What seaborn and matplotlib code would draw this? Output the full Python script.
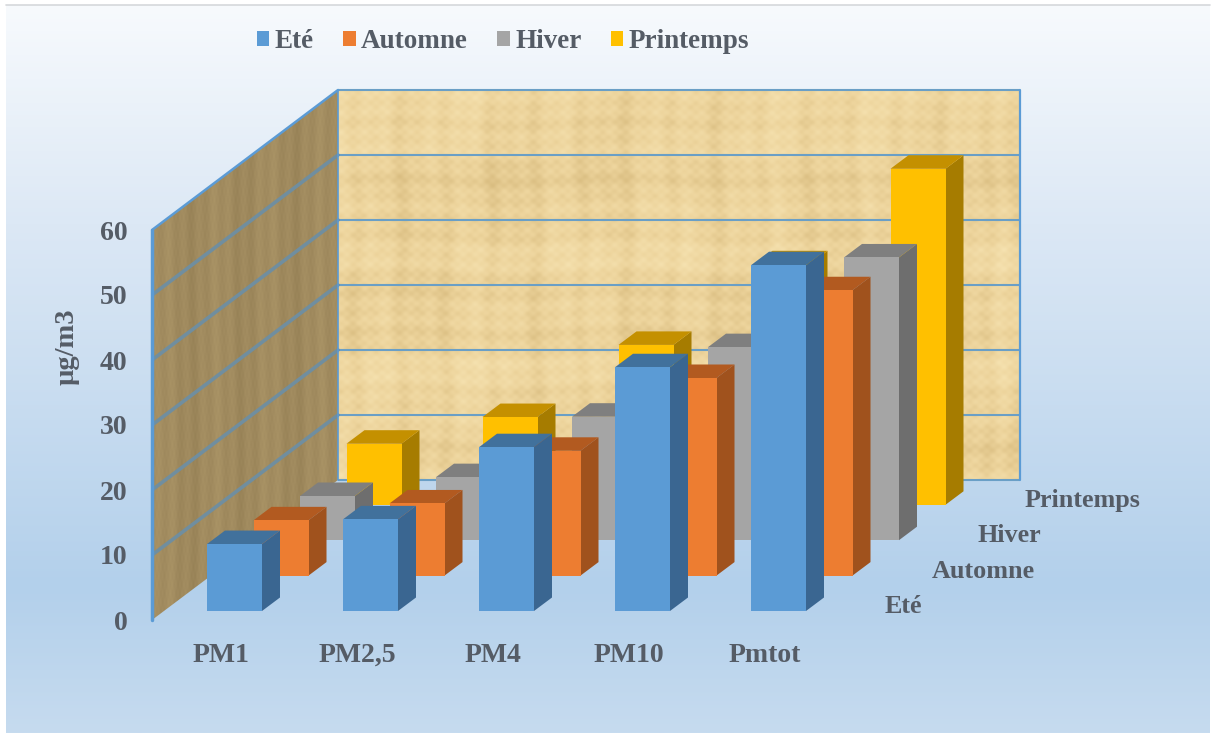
import numpy as np
import matplotlib
matplotlib.use("Agg")
import matplotlib.pyplot as plt
from matplotlib.patches import Polygon
from matplotlib.colors import LinearSegmentedColormap
import seaborn as sns

categories = ["PM1", "PM2,5", "PM4", "PM10", "Pmtot"]
ete = [10.3, 14.1, 25.2, 37.5, 53.2]
automne = [8.5, 11.1, 19.2, 30.4, 43.9]
hiver = [6.8, 9.7, 19.0, 29.7, 43.5]
printemps = [9.4, 13.5, 24.6, 37.0, 51.7]
series_names = ["Eté", "Automne", "Hiver", "Printemps"]
series_values = [ete, automne, hiver, printemps]
y_ticks = [0, 10, 20, 30, 40, 50, 60]

front_colors = ["#5B9BD5", "#ED7D31", "#A5A5A5", "#FFC000"]
side_colors = ["#3A6691", "#A0521D", "#6E6E6E", "#A67C00"]
top_colors = ["#41719C", "#B25A20", "#7F7F7F", "#C49000"]
TEXT = "#555C66"
EDGE = "#5B9BD5"

W, H = 1212, 733
sns.set_theme(style="white")
plt.rcParams["font.family"] = ["Liberation Serif", "DejaVu Serif"]
plt.rcParams["font.weight"] = "bold"

fig = plt.figure(figsize=(W / 100, H / 100), dpi=100, facecolor="white")

# page gradient
bg = fig.add_axes([0, 0, 1, 1], zorder=0)
bg.set_axis_off()
stops = [(0.0, "#F7FAFD"), (0.3, "#DCE8F5"), (0.8, "#B3D0EB"), (1.0, "#C6DBEF")]
cmap = LinearSegmentedColormap.from_list("page", stops)
bg.imshow(np.linspace(0, 1, 256)[:, None], cmap=cmap, aspect="auto",
          extent=(6, 1210, 733, 5))
bg.plot([6, 1210], [4.5, 4.5], color="#D5D8DB", lw=1.2)
bg.set_xlim(0, W)
bg.set_ylim(H, 0)

# plot axes: left edge = front of the value axis, bottom = value 0
PX_L, PX_R, PX_B, PX_T = 152, 1020, 620, 90
ax = fig.add_axes([PX_L / W, (H - PX_B) / H, (PX_R - PX_L) / W, (PX_B - PX_T) / H], zorder=1)
ax.patch.set_alpha(0)

PX_PER_CAT = 136.0
PX_PER_UNIT = 6.5
X0 = (PX_L - 234.5) / PX_PER_CAT
X1 = (PX_R - 234.5) / PX_PER_CAT
Y1 = (PX_B - PX_T) / PX_PER_UNIT

BAR_W = 55 / PX_PER_CAT
FLOOR = 9 / PX_PER_UNIT          # front row floor above axis zero
ROW_DX, ROW_DY = 46.5 / PX_PER_CAT, 35.4 / PX_PER_UNIT
BOX_DX, BOX_DY = 18 / PX_PER_CAT, 13.5 / PX_PER_UNIT
WALL_DX, WALL_DY = 186 / PX_PER_CAT, 140 / PX_PER_UNIT

# walls: woven papyrus-like texture
back_x0 = X0 + WALL_DX
yy, xx = np.mgrid[0:400, 0:700]
tex_back = (0.52
            + 0.07 * np.sin(xx / 1.9) * np.sin(yy / 1.6)
            + 0.05 * np.sin(xx / 3.7 + np.sin(yy / 29.0))
            + 0.05 * np.sin(xx / 7.3 + 2.0) + 0.05 * np.sin(xx / 17.0 + np.sin(yy / 53.0))
            + 0.05 * np.sin(yy / 3.1 + np.sin(xx / 37.0))
            + 0.05 * np.sin(yy / 8.9 + 1.0) + 0.05 * np.sin(yy / 21.0)
            + 0.04 * np.sin(xx / 71.0 + yy / 47.0))
cm_back = LinearSegmentedColormap.from_list("b", ["#D6B97C", "#EDD49C", "#F8E6B6"])
im = ax.imshow(tex_back, cmap=cm_back, vmin=0.1, vmax=0.95, aspect="auto", zorder=0.5,
               extent=(back_x0, X1, WALL_DY, Y1), interpolation="bilinear")
tex_side = (0.5 + 0.14 * np.sin(xx / 9.0 + np.sin(yy / 60.0))
            + 0.1 * np.sin(xx / 2.3) * np.sin(yy / 2.1) + 0.12 * np.sin(xx / 31.0))
cm_side = LinearSegmentedColormap.from_list("s", ["#927D52", "#A18B5F", "#AE9869"])
im2 = ax.imshow(tex_side, cmap=cm_side, vmin=0, vmax=1, aspect="auto", zorder=0.5,
                extent=(X0, back_x0, 0, Y1), interpolation="bilinear")
side_poly = Polygon([(X0, 0), (back_x0, WALL_DY), (back_x0, Y1), (X0, y_ticks[-1])],
                    closed=True, transform=ax.transData, fc="none", ec="none")
ax.add_patch(side_poly)
im2.set_clip_path(side_poly)

# gridlines on both walls
for t in y_ticks:
    ax.plot([back_x0, X1], [t + WALL_DY, t + WALL_DY], color="#6A9FC6", lw=1.5, zorder=1,
            clip_on=False, solid_capstyle="butt")
    if 0 < t < y_ticks[-1]:
        ax.plot([X0, back_x0], [t, t + WALL_DY], color="#708E9F", lw=2.6, zorder=1)
ax.plot([X0, back_x0], [y_ticks[-1], y_ticks[-1] + WALL_DY], color=EDGE, lw=1.8, zorder=1, clip_on=False)
ax.plot([X0, X0], [0, y_ticks[-1]], color=EDGE, lw=2.5, zorder=1, clip_on=False)
ax.plot([X1, X1], [WALL_DY, y_ticks[-1] + WALL_DY], color=EDGE, lw=1.6, zorder=1, clip_on=False)
ax.plot([back_x0, back_x0], [WALL_DY, y_ticks[-1] + WALL_DY], color=EDGE, lw=1.2, zorder=1)

# bars, back row first
pos = np.arange(len(categories), dtype=float)
containers = {}
for row in range(3, -1, -1):
    vals = np.array(series_values[row], dtype=float)
    x_row = pos + row * ROW_DX
    base = FLOOR + row * ROW_DY
    z = 10 - row
    n_before = len(ax.containers)
    sns.barplot(x=x_row, y=vals, native_scale=True, width=BAR_W, color=front_colors[row],
                saturation=1, errorbar=None, bottom=base, ax=ax, zorder=z + 0.5,
                linewidth=0)
    containers[row] = ax.containers[n_before]
    for x, v in zip(x_row, vals):
        r = x + BAR_W / 2
        l = x - BAR_W / 2
        top = base + v
        ax.add_patch(Polygon([(r, base), (r + BOX_DX, base + BOX_DY),
                              (r + BOX_DX, top + BOX_DY), (r, top)],
                             closed=True, fc=side_colors[row], ec="none", zorder=z))
        ax.add_patch(Polygon([(l, top), (r, top), (r + BOX_DX, top + BOX_DY),
                              (l + BOX_DX, top + BOX_DY)],
                             closed=True, fc=top_colors[row], ec="none", zorder=z))

ax.set_xlim(X0, X1)
ax.set_ylim(0, Y1)
sns.despine(ax=ax, left=True, bottom=True)

# axes text
ax.set_xticks(pos - 0.1, categories)
ax.set_yticks(y_ticks, [str(t) for t in y_ticks])
ax.tick_params(axis="x", length=0, pad=16.5, labelsize=20, labelcolor=TEXT)
ax.tick_params(axis="y", length=0, pad=17.5, labelsize=20, labelcolor=TEXT)
ax.set_xlabel("")
ax.set_ylabel("µg/m3", fontsize=20.5, color=TEXT, fontweight="bold")
ax.yaxis.set_label_coords((80 - PX_L) / (PX_R - PX_L), (PX_B - 347) / (PX_B - PX_T))

# depth axis labels
depth_left = (885 - 234.5) / PX_PER_CAT
for row, name in enumerate(series_names):
    ax.text(depth_left + row * ROW_DX, (PX_B - 606.5) / PX_PER_UNIT + row * ROW_DY, name,
            fontsize=18.8, color=TEXT, ha="left", va="center", clip_on=False, zorder=20)

# legend
leg = fig.legend(handles=[containers[i] for i in range(4)], labels=series_names,
                 ncol=4, loc="center", bbox_to_anchor=(503 / W, 1 - 42 / H), frameon=False,
                 fontsize=19.5, labelcolor=TEXT, handlelength=0.46, handleheight=0.46,
                 handletextpad=0.2, columnspacing=1.08)

fig.savefig("out.png", dpi=100, facecolor="white")
